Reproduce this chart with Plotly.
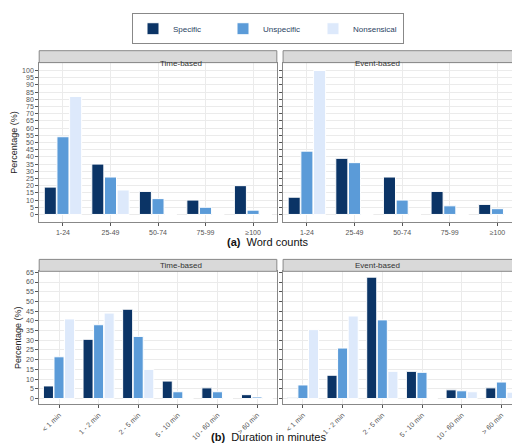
import plotly.graph_objects as go

series = ["Specific", "Unspecific", "Nonsensical"]
colors = ["#0b3466", "#5b9bd8", "#dde9fb"]
word_cats = ["1-24", "25-49", "50-74", "75-99", "≥100"]
dur_cats = ["< 1 min", "1 - 2 min", "2 - 5 min", "5 - 10 min", "10 - 60 min", "> 60 min"]

word_time = {"Specific": [19, 35, 16, 10, 20], "Unspecific": [54, 26, 11, 5, 3], "Nonsensical": [82, 17, 0, 0, 0]}
word_event = {"Specific": [12, 39, 26, 16, 7], "Unspecific": [44, 36, 10, 6, 4], "Nonsensical": [100, 0, 0, 0, 0]}
dur_time = {"Specific": [6.5, 30.5, 46, 9, 5.5, 2], "Unspecific": [21.5, 38, 32, 3.5, 3.5, 0.8], "Nonsensical": [41, 44, 15, 0, 0, 0]}
dur_event = {"Specific": [0.6, 12, 62.5, 14, 4.5, 5.5], "Unspecific": [7, 26, 40.5, 13.5, 4, 8.5], "Nonsensical": [35.5, 42.5, 14, 0, 3.5, 3.3]}

fig = go.Figure()
panels = [(word_cats, word_time, "x", "y"), (word_cats, word_event, "x2", "y2"),
          (dur_cats, dur_time, "x3", "y3"), (dur_cats, dur_event, "x4", "y4")]
for i, (cats, data, xa, ya) in enumerate(panels):
    for s, c in zip(series, colors):
        fig.add_trace(go.Bar(x=cats, y=data[s], name=s, marker=dict(color=c, line=dict(color="white", width=1)),
                             xaxis=xa, yaxis=ya, showlegend=(i == 0), offsetgroup=s))

xl = [0.06, 0.517]; xr = [0.529, 0.987]
yt = [0.525, 0.884]; yb = [0.116, 0.415]
ax = dict(showline=True, linecolor="#888", mirror=True, gridcolor="#ebebeb", ticks="outside",
          ticklen=3, tickcolor="#555", tickfont=dict(size=7, color="#555"), zeroline=False)
ttop = list(range(0, 101, 5)); tbot = list(range(0, 66, 5))
ytitle = dict(text="Percentage (%)", font=dict(size=9, color="#222"), standoff=2)
fig.update_layout(
    xaxis=dict(domain=xl, anchor="y", **ax),
    yaxis=dict(domain=yt, anchor="x", range=[-5.5, 105.5], tickvals=ttop, title=ytitle, **ax),
    xaxis2=dict(domain=xr, anchor="y2", **ax),
    yaxis2=dict(domain=yt, anchor="x2", range=[-5.5, 105.5], tickvals=ttop, showticklabels=False, **ax),
    xaxis3=dict(domain=xl, anchor="y3", tickangle=-45, **ax),
    yaxis3=dict(domain=yb, anchor="x3", range=[-3, 65.5], tickvals=tbot, title=ytitle, **ax),
    xaxis4=dict(domain=xr, anchor="y4", tickangle=-45, **ax),
    yaxis4=dict(domain=yb, anchor="x4", range=[-3, 65.5], tickvals=tbot, showticklabels=False, **ax),
    barmode="group", bargap=0.2, bargroupgap=0.05,
    width=520, height=448, margin=dict(l=0, r=0, t=0, b=0),
    plot_bgcolor="white", paper_bgcolor="white", font=dict(family="Liberation Sans"),
    legend=dict(orientation="h", x=0.5, xanchor="center", y=0.995, yanchor="top", font=dict(size=8),
                bordercolor="#888", borderwidth=1, entrywidth=45, itemwidth=30, tracegroupgap=0),
)
for dom, ydom, txt in [(xl, yt, "Time-based"), (xr, yt, "Event-based"), (xl, yb, "Time-based"), (xr, yb, "Event-based")]:
    fig.add_shape(type="rect", xref="paper", yref="paper", x0=dom[0], x1=dom[1], y0=ydom[1], y1=ydom[1] + 12 / 448,
                  fillcolor="#d9d9d9", line=dict(color="#888", width=1))
    fig.add_annotation(xref="paper", yref="paper", x=(dom[0] + dom[1]) / 2, y=ydom[1] + 6 / 448, text=txt,
                       showarrow=False, font=dict(size=8, color="#333"))
fig.add_annotation(xref="paper", yref="paper", x=0.5, y=1 - 233 / 448, text="<b>(a)</b>  Word counts",
                   showarrow=False, font=dict(size=11, color="#111"))
fig.add_annotation(xref="paper", yref="paper", x=0.5, y=1 - 437 / 448, text="<b>(b)</b>  Duration in minutes",
                   showarrow=False, font=dict(size=11, color="#111"))
fig.write_html("out.html")
